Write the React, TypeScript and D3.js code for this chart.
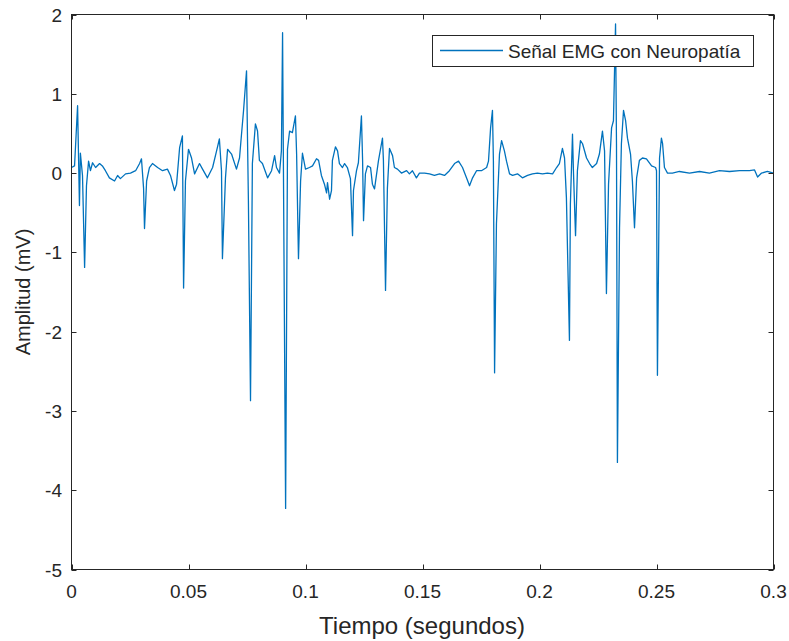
import { useEffect, useRef } from "react";
import * as d3 from "d3";

// tiempo (s) y amplitud (mV)
const tiempo = [
  0, 0.0013, 0.0026, 0.0034, 0.0038, 0.0047, 0.0056, 0.0064, 0.0073, 0.0081, 0.009, 0.0103, 0.012, 0.0132, 0.0145,
  0.0162, 0.0184, 0.0197, 0.0209, 0.0231, 0.0252, 0.0274, 0.0291, 0.0299, 0.0308, 0.0312, 0.0321, 0.0333, 0.0346,
  0.0368, 0.0389, 0.041, 0.0423, 0.044, 0.0449, 0.0462, 0.0474, 0.0479, 0.0487, 0.05, 0.0513, 0.0526, 0.0547, 0.056,
  0.0581, 0.0603, 0.062, 0.0632, 0.0641, 0.0645, 0.0658, 0.0667, 0.0684, 0.0705, 0.0718, 0.0726, 0.0735, 0.0748,
  0.0756, 0.0765, 0.0773, 0.0786, 0.0795, 0.0803, 0.0816, 0.0838, 0.0855, 0.0868, 0.0876, 0.0889, 0.0897, 0.0902,
  0.0915, 0.0923, 0.0932, 0.0944, 0.0957, 0.0962, 0.097, 0.0979, 0.0987, 0.1, 0.1017, 0.103, 0.1047, 0.1056, 0.1068,
  0.1081, 0.109, 0.1094, 0.1103, 0.1111, 0.1115, 0.1128, 0.1137, 0.1145, 0.1158, 0.1167, 0.1179, 0.1192, 0.1201,
  0.1205, 0.1218, 0.1226, 0.1239, 0.1244, 0.1248, 0.1256, 0.1265, 0.1278, 0.1286, 0.1295, 0.1303, 0.1312, 0.1321,
  0.1329, 0.1333, 0.1342, 0.135, 0.1359, 0.1372, 0.138, 0.1393, 0.141, 0.1432, 0.1444, 0.1457, 0.1474, 0.1487,
  0.1509, 0.153, 0.1551, 0.1573, 0.1594, 0.1615, 0.1637, 0.1654, 0.1671, 0.1688, 0.1701, 0.1714, 0.1731, 0.1752,
  0.1774, 0.1782, 0.1791, 0.1799, 0.1803, 0.1808, 0.1816, 0.1829, 0.1838, 0.185, 0.1859, 0.1872, 0.1885, 0.1906,
  0.1927, 0.1949, 0.197, 0.1991, 0.2013, 0.2034, 0.2056, 0.2073, 0.2085, 0.2098, 0.2107, 0.2115, 0.2128, 0.2132,
  0.2141, 0.2145, 0.2154, 0.2162, 0.2175, 0.2184, 0.2201, 0.2214, 0.2226, 0.2244, 0.2256, 0.2269, 0.2278, 0.2286,
  0.2295, 0.2308, 0.2316, 0.2325, 0.2329, 0.2333, 0.2342, 0.235, 0.2359, 0.2368, 0.2376, 0.2389, 0.2397, 0.2406,
  0.2415, 0.2427, 0.244, 0.2457, 0.2479, 0.2496, 0.25, 0.2504, 0.2513, 0.2521, 0.2526, 0.2534, 0.2547, 0.2568,
  0.2598, 0.2641, 0.2684, 0.2726, 0.2769, 0.2812, 0.2855, 0.2897, 0.2919, 0.2932, 0.2949, 0.2974, 0.3,
];

const amplitud = [
  0.07, 0.09, 0.85, -0.41, 0.25, -0.03, -1.19, -0.16, 0.15, 0.03, 0.13, 0.07, 0.12, 0.09, 0.03,
  -0.06, -0.1, -0.03, -0.07, -0.01, 0.0, 0.03, 0.12, 0.18, -0.19, -0.7, -0.1, 0.07, 0.12,
  0.07, 0.03, 0.05, -0.03, -0.22, -0.14, 0.32, 0.47, -1.45, -0.1, 0.3, 0.19, -0.01, 0.12, 0.05,
  -0.06, 0.07, 0.28, 0.43, 0.03, -1.08, -0.06, 0.3, 0.24, 0.05, 0.19, 0.47, 0.78, 1.29,
  -0.35, -2.87, 0.12, 0.62, 0.53, 0.16, 0.12, -0.06, 0.03, 0.22, 0.07, 0.0, 0.28, 1.77,
  -4.23, 0.3, 0.53, 0.51, 0.72, 0.24, -1.08, -0.1, 0.25, 0.05, 0.07, 0.09, 0.18, 0.16, -0.03,
  -0.14, -0.25, -0.12, -0.33, -0.22, 0.16, 0.33, 0.28, 0.12, 0.07, 0.12, 0.07, -0.07, -0.79,
  -0.22, 0.03, 0.13, 0.72, 0.16, -0.6, -0.01, 0.09, 0.07, -0.14, -0.2, -0.03, 0.16, 0.31,
  0.44, 0.16, -1.48, -0.19, 0.31, 0.22, 0.07, 0.05, 0.0, 0.03, -0.01, 0.03, -0.06, 0.0,
  0.0, -0.01, -0.03, -0.01, -0.03, 0.03, 0.12, 0.15, 0.07, -0.06, -0.16, -0.06, 0.03, 0.03,
  0.07, 0.15, 0.57, 0.79, 0.15, -2.52, -0.64, 0.24, 0.41, 0.28, 0.15, -0.01, -0.03, -0.01,
  -0.06, -0.03, -0.01, 0.0, -0.01, 0.0, -0.01, 0.07, 0.12, 0.31, 0.19, -0.31, -2.11, -0.39,
  0.49, 0.03, -0.79, 0.03, 0.41, 0.37, 0.19, 0.12, 0.07, 0.12, 0.24, 0.53, 0.28, -1.52,
  -0.14, 0.57, 0.66, 1.88, 0.37, -3.65, -0.69, 0.37, 0.79, 0.66, 0.44, 0.24, -0.1, -0.69,
  -0.06, 0.16, 0.19, 0.18, 0.09, 0.07, 0.03, -2.55, 0.19, 0.44, 0.37, 0.07, 0.0, 0.0,
  0.02, 0.0, 0.02, 0.0, 0.03, 0.02, 0.03, 0.03, 0.04, -0.05, 0.0, 0.02, 0.0,
];

const xTicks = [0, 0.05, 0.1, 0.15, 0.2, 0.25, 0.3];
const yTicks = [-5, -4, -3, -2, -1, 0, 1, 2];
const serieNombre = "Señal EMG con Neuropatía";

const W = 789;
const H = 641;
const ejeColor = "#262626";
const lineaColor = "#0072BD";
const fuente = "'Liberation Sans', Arial, Helvetica, sans-serif";

const App = () => {
  const svgRef = useRef<SVGSVGElement | null>(null);

  useEffect(() => {
    const svg = d3.select(svgRef.current);
    svg.selectAll("*").remove();

    const left = 71.5, right = 773.5, top = 14.5, bottom = 569.5;
    const x = d3.scaleLinear().domain([0, 0.3]).range([left, right]);
    const y = d3.scaleLinear().domain([-5, 2]).range([bottom, top]);
    const tickLen = 5;

    svg.append("rect").attr("width", W).attr("height", H).attr("fill", "#fff");

    // señal
    const data = tiempo.map((t, i) => [t, amplitud[i]] as [number, number]);
    const line = d3.line<[number, number]>().x((d) => x(d[0])).y((d) => y(d[1]));
    svg
      .append("path")
      .datum(data)
      .attr("d", line)
      .attr("fill", "none")
      .attr("stroke", lineaColor)
      .attr("stroke-width", 1.3)
      .attr("stroke-linejoin", "round");

    // caja de ejes
    svg
      .append("rect")
      .attr("x", left)
      .attr("y", top)
      .attr("width", right - left)
      .attr("height", bottom - top)
      .attr("fill", "none")
      .attr("stroke", ejeColor)
      .attr("stroke-width", 1);

    const gTicks = svg.append("g").attr("stroke", ejeColor).attr("stroke-width", 1);
    xTicks.forEach((t) => {
      const px = Math.round(x(t)) + 0.5;
      gTicks.append("line").attr("x1", px).attr("x2", px).attr("y1", bottom).attr("y2", bottom - tickLen);
      gTicks.append("line").attr("x1", px).attr("x2", px).attr("y1", top).attr("y2", top + tickLen);
    });
    yTicks.forEach((v) => {
      const py = Math.round(y(v)) + 0.5;
      gTicks.append("line").attr("x1", left).attr("x2", left + tickLen).attr("y1", py).attr("y2", py);
      gTicks.append("line").attr("x1", right).attr("x2", right - tickLen).attr("y1", py).attr("y2", py);
    });

    svg
      .append("g")
      .selectAll("text")
      .data(xTicks)
      .join("text")
      .attr("x", (d) => x(d))
      .attr("y", 598)
      .attr("text-anchor", "middle")
      .attr("font-family", fuente)
      .attr("font-size", 19)
      .attr("fill", ejeColor)
      .text((d) => `${d}`);

    svg
      .append("g")
      .selectAll("text")
      .data(yTicks)
      .join("text")
      .attr("x", 62)
      .attr("y", (d) => y(d) + 7)
      .attr("text-anchor", "end")
      .attr("font-family", fuente)
      .attr("font-size", 19)
      .attr("fill", ejeColor)
      .text((d) => `${d}`);

    svg
      .append("text")
      .attr("x", 422)
      .attr("y", 634)
      .attr("text-anchor", "middle")
      .attr("font-family", fuente)
      .attr("font-size", 24)
      .attr("fill", ejeColor)
      .text("Tiempo (segundos)");

    svg
      .append("text")
      .attr("transform", `translate(30, ${(top + bottom) / 2}) rotate(-90)`)
      .attr("text-anchor", "middle")
      .attr("font-family", fuente)
      .attr("font-size", 20)
      .attr("fill", ejeColor)
      .text("Amplitud (mV)");

    // leyenda
    const lg = svg.append("g");
    lg.append("rect")
      .attr("x", 432.5)
      .attr("y", 35.5)
      .attr("width", 321)
      .attr("height", 31)
      .attr("fill", "#fff")
      .attr("stroke", ejeColor)
      .attr("stroke-width", 1);
    lg.append("line")
      .attr("x1", 440)
      .attr("x2", 503)
      .attr("y1", 50.5)
      .attr("y2", 50.5)
      .attr("stroke", lineaColor)
      .attr("stroke-width", 1.3);
    lg.append("text")
      .attr("x", 508)
      .attr("y", 57.5)
      .attr("font-family", fuente)
      .attr("font-size", 19)
      .attr("fill", ejeColor)
      .text(serieNombre);
  }, []);

  return (
    <div style={{ position: "absolute", left: 0, top: 0, width: W, height: H, background: "#fff" }}>
      <svg ref={svgRef} width={W} height={H}></svg>
    </div>
  );
};

export default App;
